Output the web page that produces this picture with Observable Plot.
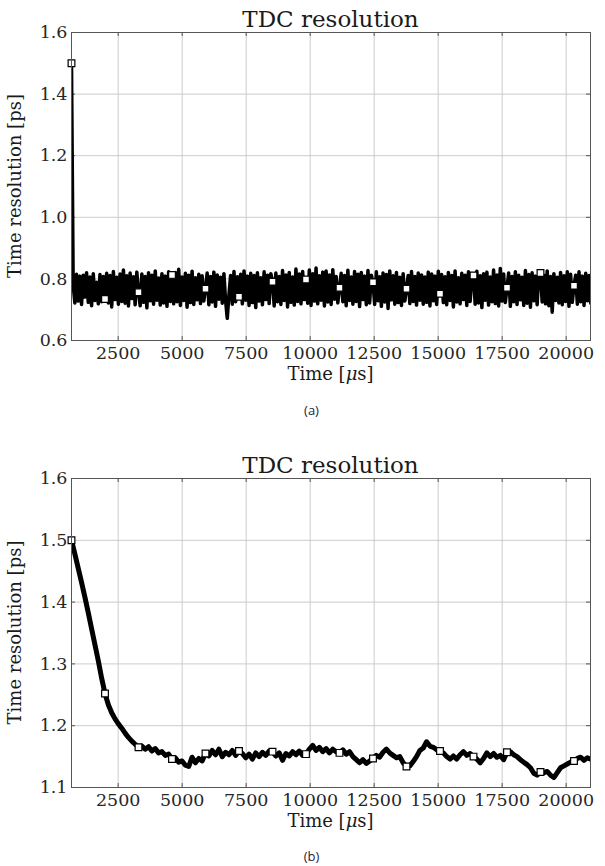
<!DOCTYPE html>
<html><head><meta charset="utf-8">
<script src="https://cdn.jsdelivr.net/npm/d3@7"></script>
<script src="https://cdn.jsdelivr.net/npm/@observablehq/plot@0.6"></script>
<style>
body{margin:0;background:#fff;}
#wrap{position:relative;width:605px;height:866px;overflow:hidden;background:#fff;}
#wrap svg{position:absolute;left:0;}
#wrap svg text{font-family:"DejaVu Serif",serif !important;}
.cap{position:absolute;left:9px;width:605px;height:20px;line-height:20px;text-align:center;font-family:"Open Sans",sans-serif;font-size:13px;color:#1c2540;}
</style></head><body><div id="wrap"></div>
<script>
// sampling of the time axis (µs)
const tStart = 676;
const stepA = 65.43;     // panel (a) sample spacing
const stepB = 130.86;    // panel (b) sample spacing
const markEveryA = 20;
const markEveryB = 10;

// panel (a): raw TDC resolution [ps]
const valuesA = [
1.500,0.781,0.722,0.815,0.728,0.809,0.717,0.812,0.741,0.820,0.724,0.806,0.713,0.817,0.730,0.789,0.719,0.814,0.726,0.808,
0.735,0.818,0.722,0.811,0.709,0.824,0.733,0.805,0.718,0.816,0.727,0.829,0.721,0.810,0.712,0.819,0.736,0.807,0.716,0.822,
0.757,0.713,0.816,0.724,0.808,0.706,0.820,0.729,0.812,0.718,0.826,0.731,0.803,0.715,0.817,0.722,0.809,0.711,0.823,0.727,
0.813,0.719,0.821,0.726,0.831,0.714,0.806,0.730,0.818,0.708,0.812,0.723,0.825,0.717,0.804,0.732,0.815,0.720,0.810,0.728,
0.768,0.819,0.716,0.808,0.725,0.822,0.711,0.813,0.734,0.805,0.721,0.817,0.729,0.672,0.748,0.811,0.718,0.824,0.726,0.807,
0.742,0.815,0.719,0.826,0.731,0.809,0.714,0.818,0.723,0.811,0.707,0.820,0.728,0.804,0.716,0.823,0.733,0.812,0.720,0.817,
0.791,0.712,0.819,0.726,0.808,0.717,0.827,0.730,0.813,0.709,0.821,0.724,0.806,0.715,0.832,0.727,0.816,0.719,0.824,0.733,
0.798,0.721,0.829,0.714,0.817,0.728,0.835,0.719,0.810,0.731,0.822,0.712,0.826,0.725,0.813,0.717,0.830,0.734,0.808,0.722,
0.771,0.818,0.726,0.811,0.713,0.828,0.730,0.806,0.718,0.824,0.727,0.815,0.710,0.821,0.733,0.809,0.716,0.827,0.722,0.812,
0.789,0.717,0.823,0.729,0.807,0.711,0.819,0.725,0.814,0.704,0.826,0.732,0.810,0.718,0.821,0.723,0.805,0.714,0.817,0.728,
0.768,0.811,0.720,0.824,0.727,0.808,0.715,0.819,0.731,0.813,0.718,0.806,0.724,0.822,0.712,0.816,0.729,0.809,0.717,0.825,
0.752,0.814,0.723,0.807,0.716,0.821,0.730,0.811,0.709,0.826,0.725,0.804,0.719,0.818,0.733,0.812,0.714,0.823,0.727,0.809,
0.811,0.718,0.825,0.722,0.810,0.707,0.817,0.731,0.822,0.715,0.806,0.726,0.829,0.720,0.813,0.712,0.834,0.728,0.816,0.723,
0.771,0.819,0.711,0.808,0.726,0.823,0.717,0.812,0.732,0.805,0.714,0.827,0.721,0.814,0.708,0.820,0.729,0.809,0.716,0.824,
0.819,0.725,0.812,0.719,0.826,0.713,0.808,0.692,0.817,0.730,0.805,0.722,0.821,0.716,0.810,0.727,0.823,0.711,0.815,0.724,
0.778,0.812,0.718,0.823,0.726,0.809,0.714,0.818,0.729,0.811,0.721
];

// panel (b): filtered TDC resolution [ps]
const valuesB = [
1.500,1.478,1.455,1.432,1.408,1.383,1.357,1.331,1.305,1.277,
1.252,1.234,1.221,1.211,1.203,1.196,1.188,1.181,1.175,1.170,
1.165,1.167,1.162,1.166,1.159,1.163,1.156,1.158,1.152,1.154,
1.146,1.148,1.141,1.143,1.136,1.134,1.149,1.140,1.147,1.143,
1.155,1.151,1.160,1.153,1.162,1.150,1.157,1.153,1.160,1.152,
1.159,1.155,1.148,1.154,1.146,1.156,1.150,1.157,1.152,1.159,
1.158,1.151,1.156,1.144,1.155,1.151,1.158,1.153,1.159,1.152,
1.154,1.162,1.168,1.160,1.165,1.158,1.163,1.156,1.162,1.158,
1.156,1.161,1.154,1.158,1.150,1.145,1.140,1.145,1.139,1.143,
1.147,1.152,1.149,1.157,1.162,1.156,1.152,1.148,1.150,1.140,
1.134,1.135,1.142,1.150,1.160,1.164,1.174,1.167,1.165,1.161,
1.159,1.156,1.150,1.146,1.151,1.146,1.153,1.158,1.152,1.155,
1.150,1.146,1.140,1.147,1.156,1.150,1.155,1.149,1.152,1.145,
1.157,1.158,1.153,1.150,1.145,1.141,1.137,1.132,1.123,1.120,
1.125,1.124,1.126,1.120,1.116,1.124,1.132,1.135,1.138,1.141,
1.143,1.147,1.149,1.144,1.148,1.146
];

const xDomain = [676, 20950];
const xTicks = [2500, 5000, 7500, 10000, 12500, 15000, 17500, 20000];
const yDomainA = [0.6, 1.6];
const yTicksA = [0.6, 0.8, 1.0, 1.2, 1.4, 1.6];
const yDomainB = [1.1, 1.6];
const yTicksB = [1.1, 1.2, 1.3, 1.4, 1.5, 1.6];

const titleText = "TDC resolution";
const yLabelText = "Time resolution [ps]";

const W = 605, ML = 71, MR = 15;
const SERIF = "DejaVu Serif";

function panel({values, step, markEvery, yDomain, yTicks, strokeWidth, marginTop, height, marginBottom}) {
  const data = values.map((y, i) => ({t: tStart + i * step, y}));
  const marked = data.filter((d, i) => i % markEvery === 0);
  const plotW = W - ML - MR;
  const plotH = height - marginTop - marginBottom;
  const kx = (xDomain[1] - xDomain[0]) / plotW * 4;
  const ky = (yDomain[1] - yDomain[0]) / plotH * 4;
  const tickColor = "#555";
  const chart = Plot.plot({
    width: W, height, marginTop, marginBottom, marginLeft: ML, marginRight: MR,
    x: {domain: xDomain},
    y: {domain: yDomain},
    style: {fontFamily: SERIF, background: "white", color: "#262626", overflow: "visible"},
    marks: [
      Plot.gridX(xTicks, {stroke: "#cccccc", strokeOpacity: 1, strokeWidth: 1}),
      Plot.gridY(yTicks, {stroke: "#cccccc", strokeOpacity: 1, strokeWidth: 1}),
      Plot.ruleY(yTicks, {x1: xDomain[0], x2: xDomain[0] + kx, stroke: tickColor}),
      Plot.ruleY(yTicks, {x1: xDomain[1] - kx, x2: xDomain[1], stroke: tickColor}),
      Plot.ruleX(xTicks, {y1: yDomain[0], y2: yDomain[0] + ky, stroke: tickColor}),
      Plot.ruleX(xTicks, {y1: yDomain[1] - ky, y2: yDomain[1], stroke: tickColor}),
      Plot.axisX(xTicks, {tickSize: 0, tickPadding: 6, fontSize: 17.5, label: null, tickFormat: d3.format("d")}),
      Plot.axisY(yTicks, {tickSize: 0, tickPadding: 4, fontSize: 17.5, label: null, tickFormat: d3.format(".1f")}),
      Plot.line(data, {x: "t", y: "y", stroke: "black", strokeWidth, strokeLinejoin: "round", strokeLinecap: "round", clip: true}),
      Plot.dot(marked, {x: "t", y: "y", symbol: "square", r: 3.8, fill: "white", stroke: "black", strokeWidth: 1.2}),
      Plot.frame({stroke: "#555", strokeWidth: 1})
    ]
  });
  const svg = d3.select(chart);
  const cx = ML + plotW / 2;
  svg.append("text").attr("x", cx).attr("y", marginTop - 5)
    .attr("text-anchor", "middle").attr("font-size", 23).attr("fill", "#1a1a1a").text(titleText);
  const xl = svg.append("text").attr("x", cx).attr("y", marginTop + plotH + 40)
    .attr("text-anchor", "middle").attr("font-size", 18).attr("fill", "#1a1a1a");
  xl.append("tspan").text("Time [");
  xl.append("tspan").attr("font-style", "italic").text("\u03bc");
  xl.append("tspan").text("s]");
  svg.append("text").attr("transform", `translate(21,${marginTop + plotH / 2}) rotate(-90)`)
    .attr("text-anchor", "middle").attr("font-size", 18).attr("fill", "#1a1a1a").text(yLabelText);
  svg.selectAll("text").style("font-family", "'DejaVu Serif', serif");
  return chart;
}

const wrap = document.getElementById("wrap");
const a = panel({values: valuesA, step: stepA, markEvery: markEveryA, yDomain: yDomainA, yTicks: yTicksA,
  strokeWidth: 3.5, marginTop: 32, height: 395, marginBottom: 55});
a.style.top = "0px";
wrap.appendChild(a);
const capA = document.createElement("div"); capA.className = "cap"; capA.style.top = "400px"; capA.textContent = "(a)";
wrap.appendChild(capA);

const b = panel({values: valuesB, step: stepB, markEvery: markEveryB, yDomain: yDomainB, yTicks: yTicksB,
  strokeWidth: 5, marginTop: 50, height: 415, marginBottom: 56});
b.style.top = "428px";
wrap.appendChild(b);
const capB = document.createElement("div"); capB.className = "cap"; capB.style.top = "846px"; capB.textContent = "(b)";
wrap.appendChild(capB);
</script></body></html>
